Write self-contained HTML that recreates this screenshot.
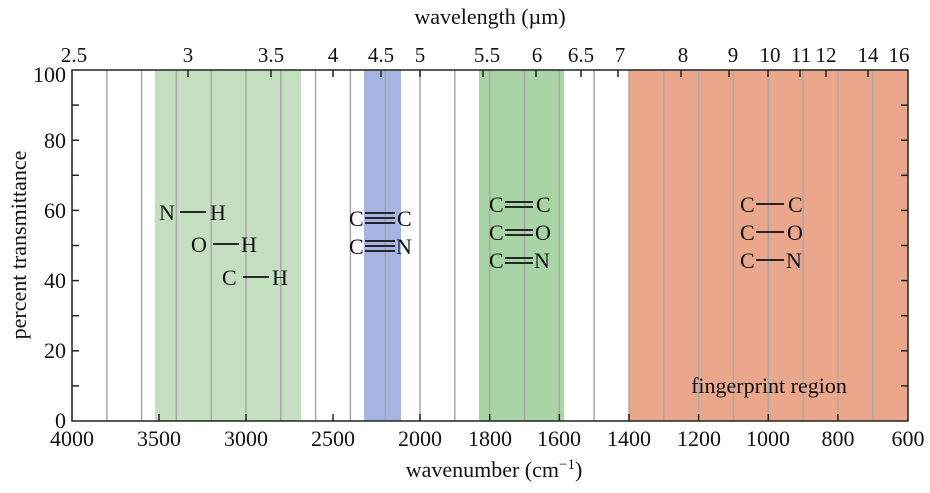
<!DOCTYPE html>
<html><head><meta charset="utf-8"><style>
html,body{margin:0;padding:0;background:#fff;}
svg{display:block;font-family:"Liberation Serif","DejaVu Serif",serif;}
</style></head><body>
<svg width="930" height="493" viewBox="0 0 930 493" xmlns="http://www.w3.org/2000/svg">
<rect x="155" y="70" width="146" height="351" fill="#c4e0c1"/>
<rect x="364" y="70" width="37" height="351" fill="#a6b4e1"/>
<rect x="479" y="70" width="85" height="351" fill="#a9d4a6"/>
<rect x="629" y="70" width="279" height="351" fill="#eba78c"/>
<g stroke="#a8a8a8" stroke-width="1.5">
<line x1="106.8" y1="70" x2="106.8" y2="421"/><line x1="141.6" y1="70" x2="141.6" y2="421"/>
<line x1="176.4" y1="70" x2="176.4" y2="421"/><line x1="211.2" y1="70" x2="211.2" y2="421"/>
<line x1="246" y1="70" x2="246" y2="421"/><line x1="280.8" y1="70" x2="280.8" y2="421"/>
<line x1="315.6" y1="70" x2="315.6" y2="421"/><line x1="350.4" y1="70" x2="350.4" y2="421"/>
<line x1="385.2" y1="70" x2="385.2" y2="421"/><line x1="420" y1="70" x2="420" y2="421"/>
<line x1="454.8" y1="70" x2="454.8" y2="421"/><line x1="489.7" y1="70" x2="489.7" y2="421"/>
<line x1="524.5" y1="70" x2="524.5" y2="421"/><line x1="559.3" y1="70" x2="559.3" y2="421"/>
<line x1="594.1" y1="70" x2="594.1" y2="421"/><line x1="629" y1="70" x2="629" y2="421"/>
<line x1="663.8" y1="70" x2="663.8" y2="421"/><line x1="698.6" y1="70" x2="698.6" y2="421"/>
<line x1="733.4" y1="70" x2="733.4" y2="421"/><line x1="768.3" y1="70" x2="768.3" y2="421"/>
<line x1="803.1" y1="70" x2="803.1" y2="421"/><line x1="837.9" y1="70" x2="837.9" y2="421"/>
<line x1="872.8" y1="70" x2="872.8" y2="421"/>
</g>
<rect x="72" y="70" width="836" height="351" fill="none" stroke="#222" stroke-width="1.5"/>
<g stroke="#222" stroke-width="1.5">
<line x1="72" y1="105.1" x2="79" y2="105.1"/><line x1="72" y1="140.2" x2="79" y2="140.2"/>
<line x1="72" y1="175.3" x2="79" y2="175.3"/><line x1="72" y1="210.4" x2="79" y2="210.4"/>
<line x1="72" y1="245.5" x2="79" y2="245.5"/><line x1="72" y1="280.6" x2="79" y2="280.6"/>
<line x1="72" y1="315.7" x2="79" y2="315.7"/><line x1="72" y1="350.8" x2="79" y2="350.8"/>
<line x1="72" y1="385.9" x2="79" y2="385.9"/>
<line x1="901" y1="105.1" x2="908" y2="105.1"/><line x1="901" y1="140.2" x2="908" y2="140.2"/>
<line x1="901" y1="175.3" x2="908" y2="175.3"/><line x1="901" y1="210.4" x2="908" y2="210.4"/>
<line x1="901" y1="245.5" x2="908" y2="245.5"/><line x1="901" y1="280.6" x2="908" y2="280.6"/>
<line x1="901" y1="315.7" x2="908" y2="315.7"/><line x1="901" y1="350.8" x2="908" y2="350.8"/>
<line x1="901" y1="385.9" x2="908" y2="385.9"/>
<line x1="159" y1="414" x2="159" y2="421"/><line x1="246" y1="414" x2="246" y2="421"/>
<line x1="333" y1="414" x2="333" y2="421"/><line x1="420" y1="414" x2="420" y2="421"/>
<line x1="489.7" y1="414" x2="489.7" y2="421"/><line x1="559.3" y1="414" x2="559.3" y2="421"/>
<line x1="629" y1="414" x2="629" y2="421"/><line x1="698.6" y1="414" x2="698.6" y2="421"/>
<line x1="768.3" y1="414" x2="768.3" y2="421"/><line x1="837.9" y1="414" x2="837.9" y2="421"/>
<line x1="188" y1="70" x2="188" y2="77"/><line x1="271" y1="70" x2="271" y2="77"/>
<line x1="333" y1="70" x2="333" y2="77"/><line x1="381" y1="70" x2="381" y2="77"/>
<line x1="420" y1="70" x2="420" y2="77"/><line x1="483" y1="70" x2="483" y2="77"/>
<line x1="536" y1="70" x2="536" y2="77"/><line x1="581" y1="70" x2="581" y2="77"/>
<line x1="618" y1="70" x2="618" y2="77"/><line x1="681" y1="70" x2="681" y2="77"/>
<line x1="729" y1="70" x2="729" y2="77"/><line x1="768" y1="70" x2="768" y2="77"/>
<line x1="800" y1="70" x2="800" y2="77"/><line x1="826" y1="70" x2="826" y2="77"/>
<line x1="868" y1="70" x2="868" y2="77"/>
</g>
<g font-size="22" fill="#111" text-anchor="end">
<text x="66" y="82">100</text><text x="66" y="148">80</text><text x="66" y="218">60</text>
<text x="66" y="288">40</text><text x="66" y="358">20</text><text x="66" y="428">0</text>
</g>
<g font-size="22" fill="#111" text-anchor="middle">
<text x="72" y="446">4000</text><text x="159" y="446">3500</text><text x="246" y="446">3000</text>
<text x="333" y="446">2500</text><text x="420" y="446">2000</text><text x="490" y="446">1800</text>
<text x="559" y="446">1600</text><text x="629" y="446">1400</text><text x="699" y="446">1200</text>
<text x="768" y="446">1000</text><text x="838" y="446">800</text><text x="908" y="446">600</text>
</g>
<g font-size="21" fill="#111" text-anchor="middle">
<text x="74" y="62">2.5</text><text x="188" y="62">3</text><text x="271" y="62">3.5</text>
<text x="333" y="62">4</text><text x="381" y="62">4.5</text><text x="420" y="62">5</text>
<text x="487" y="62">5.5</text><text x="537" y="62">6</text><text x="581" y="62">6.5</text>
<text x="620" y="62">7</text><text x="683" y="62">8</text><text x="733" y="62">9</text>
<text x="770" y="62">10</text><text x="801" y="62">11</text><text x="826" y="62">12</text>
<text x="868" y="62">14</text><text x="899" y="62">16</text>
</g>
<g font-size="22" fill="#111" text-anchor="middle">
<text x="494" y="477">wavenumber (cm<tspan dy="-8" font-size="15">−1</tspan><tspan dy="8">)</tspan></text>
<text x="490" y="24">wavelength (µm)</text>
<text transform="translate(26,245) rotate(-90)">percent transmittance</text>
<text x="769" y="393">fingerprint region</text>
</g>
<g font-size="22" fill="#111">
<text x="159" y="220">N</text><text x="210" y="220">H</text>
<text x="191" y="252">O</text><text x="241" y="252">H</text>
<text x="222" y="285">C</text><text x="272" y="285">H</text>
<text x="349" y="226">C</text><text x="397" y="226">C</text>
<text x="349" y="254">C</text><text x="396" y="254">N</text>
<text x="489" y="212">C</text><text x="536" y="212">C</text>
<text x="489" y="240">C</text><text x="535" y="240">O</text>
<text x="489" y="268">C</text><text x="534" y="268">N</text>
<text x="740" y="212">C</text><text x="788" y="212">C</text>
<text x="740" y="240">C</text><text x="787" y="240">O</text>
<text x="740" y="268">C</text><text x="786" y="268">N</text>
</g>
<g stroke="#111" stroke-width="1.8">
<line x1="180" y1="212" x2="206" y2="212"/>
<line x1="213" y1="244" x2="239" y2="244"/>
<line x1="243" y1="277" x2="269" y2="277"/>
<line x1="365" y1="213" x2="395" y2="213"/><line x1="365" y1="218" x2="395" y2="218"/><line x1="365" y1="223" x2="395" y2="223"/>
<line x1="365" y1="241" x2="395" y2="241"/><line x1="365" y1="246" x2="395" y2="246"/><line x1="365" y1="251" x2="395" y2="251"/>
<line x1="505" y1="202" x2="533" y2="202"/><line x1="505" y1="207" x2="533" y2="207"/>
<line x1="505" y1="230" x2="533" y2="230"/><line x1="505" y1="235" x2="533" y2="235"/>
<line x1="505" y1="258" x2="533" y2="258"/><line x1="505" y1="263" x2="533" y2="263"/>
<line x1="756" y1="204" x2="784" y2="204"/>
<line x1="756" y1="232" x2="784" y2="232"/>
<line x1="756" y1="260" x2="784" y2="260"/>
</g>
</svg>
</body></html>
